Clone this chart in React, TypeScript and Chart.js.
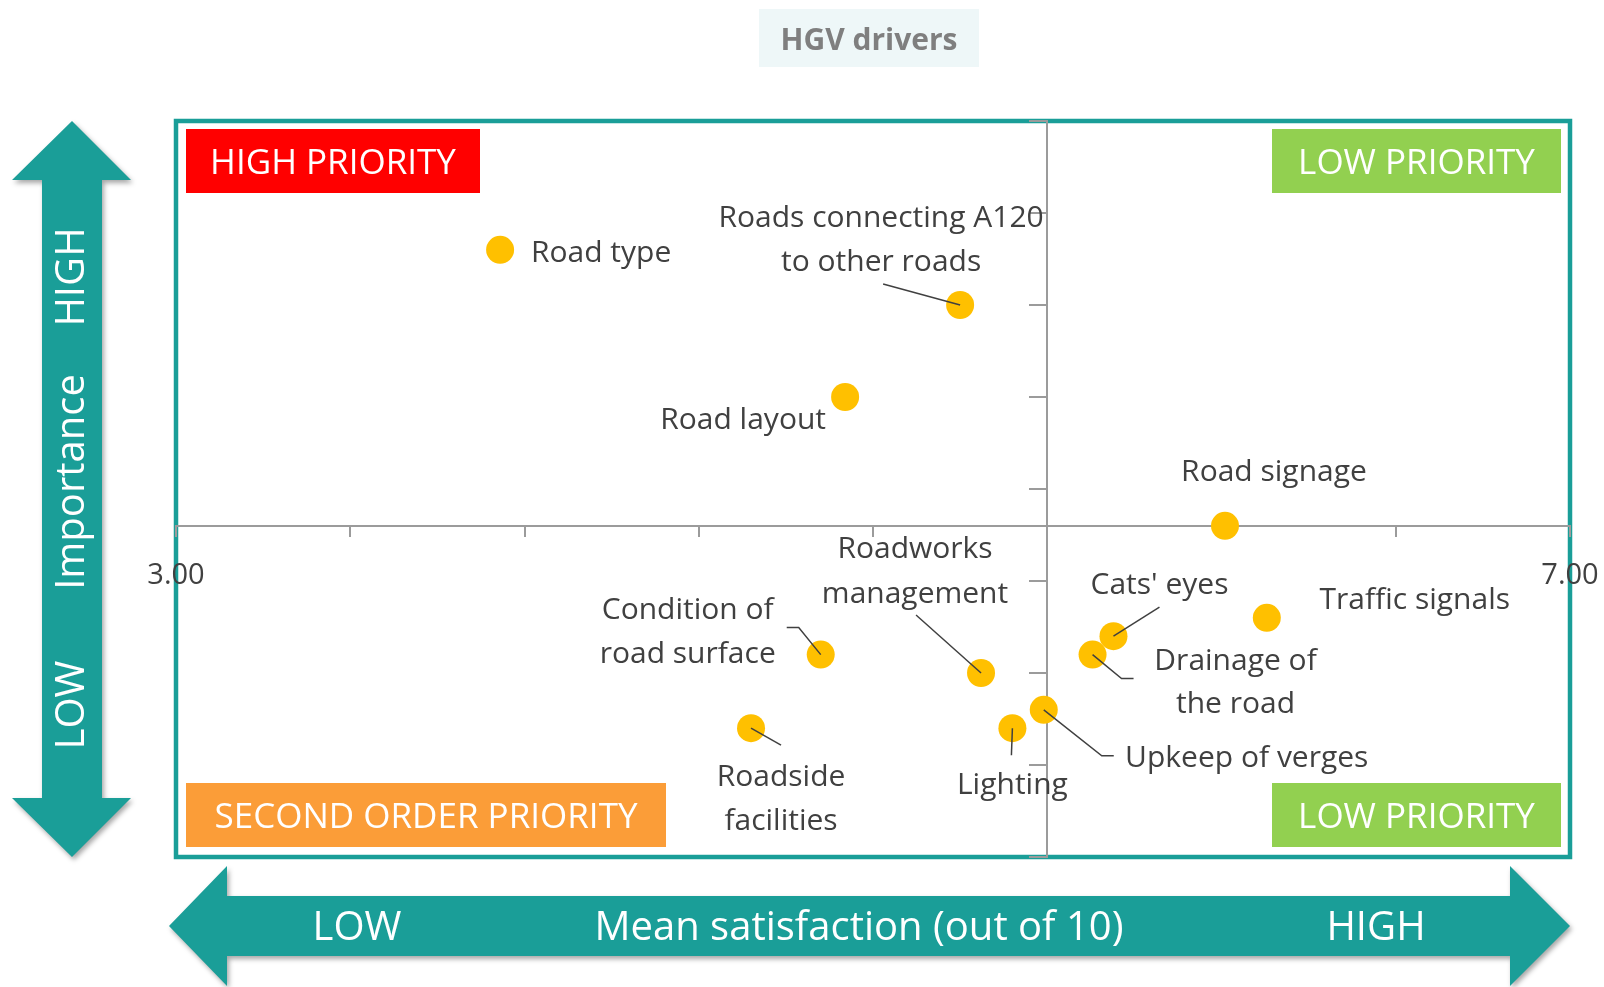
import React, { useEffect, useRef } from 'react';
import { Chart, registerables } from 'chart.js';

Chart.register(...registerables);

// ---------------- data ----------------
const categories = [
  'Road type',
  'Roads connecting A120 to other roads',
  'Road layout',
  'Road signage',
  'Traffic signals',
  "Cats' eyes",
  'Drainage of the road',
  'Condition of road surface',
  'Roadworks management',
  'Upkeep of verges',
  'Lighting',
  'Roadside facilities',
];
const satisfaction = [3.93, 5.25, 4.92, 6.01, 6.13, 5.69, 5.63, 4.85, 5.31, 5.49, 5.4, 4.65];
const importance = [9.3, 9.0, 8.5, 7.8, 7.3, 7.2, 7.1, 7.1, 7.0, 6.8, 6.7, 6.7];
const labelLines = [
  ['Road type'],
  ['Roads connecting A120', 'to other roads'],
  ['Road layout'],
  ['Road signage'],
  ['Traffic signals'],
  ["Cats' eyes"],
  ['Drainage of', 'the road'],
  ['Condition of', 'road surface'],
  ['Roadworks', 'management'],
  ['Upkeep of verges'],
  ['Lighting'],
  ['Roadside', 'facilities'],
];
const xTickLabels = ['3.00', '7.00'];
const quadrantLabels = ['HIGH PRIORITY', 'LOW PRIORITY', 'SECOND ORDER PRIORITY', 'LOW PRIORITY'];
const titleText = 'HGV drivers';
const xAxisWords = ['LOW', 'Mean satisfaction (out of 10)', 'HIGH'];
const yAxisWords = ['LOW', 'Importance', 'HIGH'];

const X_MIN = 3;
const X_MAX = 7;
const X_STEP = 0.5;
const X_CROSS = 5.5;
const Y_MIN = 6;
const Y_MAX = 10;
const Y_STEP = 0.5;
const Y_CROSS = 7.8;

// ---------------- label placement (pixel offsets from each point) ----------------
type LabelPos = { dx: number; dy: number; lh: number; leader?: number[][] };
const labelPlacement: LabelPos[] = [
  { dx: 101, dy: 4, lh: 44 },
  { dx: -79, dy: -87, lh: 44, leader: [[-77, -21], [0, 0]] },
  { dx: -102, dy: 23, lh: 44 },
  { dx: 49, dy: -53, lh: 44 },
  { dx: 148, dy: -17, lh: 44 },
  { dx: 46, dy: -51, lh: 44, leader: [[46, -29], [0, 0]] },
  { dx: 143, dy: 7, lh: 43, leader: [[0, 0], [29, 24], [41, 24]] },
  { dx: -133, dy: -44, lh: 44, leader: [[-34, -27], [-22, -27], [0, 0]] },
  { dx: -66, dy: -124, lh: 45, leader: [[-65, -58], [0, 0]] },
  { dx: 203, dy: 49, lh: 44, leader: [[0, 0], [58, 46], [70, 46]] },
  { dx: 0, dy: 57, lh: 44, leader: [[0, 0], [-1, 27]] },
  { dx: 30, dy: 49, lh: 44, leader: [[0, 0], [30, 17]] },
];

const FONT = '"Open Sans", "Noto Sans", sans-serif';
const TEAL = '#1A9E98';
const TEXT = '#404040';
const AXIS = '#9B9B9B';

const decorPlugin = {
  id: 'decor',
  beforeDraw(chart: any) {
    const ctx = chart.ctx as CanvasRenderingContext2D;
    const ca = chart.chartArea;
    ctx.save();

    // title
    ctx.fillStyle = '#EEF7F8';
    ctx.fillRect(759, 9, 220, 58);
    ctx.fillStyle = '#7F7F7F';
    ctx.font = `bold 30px ${FONT}`;
    ctx.textAlign = 'center';
    ctx.textBaseline = 'middle';
    ctx.fillText(titleText, 869, 41);

    // frame
    ctx.strokeStyle = TEAL;
    ctx.lineWidth = 4.5;
    ctx.strokeRect(ca.left, ca.top, ca.right - ca.left, ca.bottom - ca.top);

    // quadrant boxes
    const boxH = 64;
    const boxes = [
      { x: ca.left + 10, y: ca.top + 8, w: 294, c: '#FF0000' },
      { x: ca.right - 9 - 289, y: ca.top + 8, w: 289, c: '#92D050' },
      { x: ca.left + 10, y: ca.bottom - 10 - boxH, w: 480, c: '#FB9D38' },
      { x: ca.right - 9 - 289, y: ca.bottom - 10 - boxH, w: 289, c: '#92D050' },
    ];
    ctx.font = `35px ${FONT}`;
    boxes.forEach((b, i) => {
      ctx.fillStyle = b.c;
      ctx.fillRect(b.x, b.y, b.w, boxH);
      ctx.fillStyle = '#FFFFFF';
      ctx.fillText(quadrantLabels[i], b.x + b.w / 2, b.y + boxH / 2 + 3);
    });

    // arrows
    ctx.shadowColor = 'rgba(0,0,0,0.35)';
    ctx.shadowBlur = 5;
    ctx.shadowOffsetX = 2;
    ctx.shadowOffsetY = 3;
    ctx.fillStyle = TEAL;

    // vertical arrow
    const vx = 72;
    const vt = ca.top;
    const vb = ca.bottom;
    const hh = 59; // head height
    ctx.beginPath();
    ctx.moveTo(vx, vt);
    ctx.lineTo(vx + 59, vt + hh);
    ctx.lineTo(vx + 30, vt + hh);
    ctx.lineTo(vx + 30, vb - hh);
    ctx.lineTo(vx + 59, vb - hh);
    ctx.lineTo(vx, vb);
    ctx.lineTo(vx - 60, vb - hh);
    ctx.lineTo(vx - 30, vb - hh);
    ctx.lineTo(vx - 30, vt + hh);
    ctx.lineTo(vx - 60, vt + hh);
    ctx.closePath();
    ctx.fill();

    // horizontal arrow
    const hy = 926;
    const hl = 169;
    const hr = ca.right;
    const hw = 58;
    ctx.beginPath();
    ctx.moveTo(hl, hy);
    ctx.lineTo(hl + hw, hy - 60);
    ctx.lineTo(hl + hw, hy - 30);
    ctx.lineTo(hr - 60, hy - 30);
    ctx.lineTo(hr - 60, hy - 60);
    ctx.lineTo(hr, hy);
    ctx.lineTo(hr - 60, hy + 60);
    ctx.lineTo(hr - 60, hy + 30);
    ctx.lineTo(hl + hw, hy + 30);
    ctx.lineTo(hl + hw, hy + 60);
    ctx.closePath();
    ctx.fill();

    ctx.shadowColor = 'transparent';
    ctx.shadowBlur = 0;
    ctx.shadowOffsetX = 0;
    ctx.shadowOffsetY = 0;

    ctx.fillStyle = '#FFFFFF';
    ctx.font = `40px ${FONT}`;
    ctx.textAlign = 'center';
    ctx.textBaseline = 'middle';
    const hxs = [357, 859, 1376];
    xAxisWords.forEach((w, i) => ctx.fillText(w, hxs[i], hy + 3));

    const vys = [705, 482, 277];
    yAxisWords.forEach((w, i) => {
      ctx.save();
      ctx.translate(vx + 1, vys[i]);
      ctx.rotate(-Math.PI / 2);
      ctx.fillText(w, 0, 0);
      ctx.restore();
    });

    ctx.restore();
  },
  afterDatasetsDraw(chart: any) {
    const ctx = chart.ctx as CanvasRenderingContext2D;
    const meta = chart.getDatasetMeta(0);
    ctx.save();
    ctx.font = `30px ${FONT}`;
    ctx.fillStyle = TEXT;
    ctx.strokeStyle = TEXT;
    ctx.lineWidth = 1.5;
    ctx.textAlign = 'center';
    ctx.textBaseline = 'middle';
    meta.data.forEach((el: any, i: number) => {
      const p = labelPlacement[i];
      const px = el.x;
      const py = el.y;
      if (p.leader) {
        ctx.beginPath();
        p.leader.forEach((pt, k) => {
          if (k === 0) ctx.moveTo(px + pt[0], py + pt[1]);
          else ctx.lineTo(px + pt[0], py + pt[1]);
        });
        ctx.stroke();
      }
      labelLines[i].forEach((line, k) => {
        ctx.fillText(line, px + p.dx, py + p.dy + k * p.lh);
      });
    });
    ctx.restore();
  },
};

export default function App() {
  const canvasRef = useRef<HTMLCanvasElement | null>(null);

  useEffect(() => {
    if (!canvasRef.current) return;
    const chart = new Chart(canvasRef.current, {
      type: 'scatter',
      data: {
        labels: categories,
        datasets: [
          {
            label: 'HGV drivers',
            data: satisfaction.map((x, i) => ({ x, y: importance[i] })),
            backgroundColor: '#FFC000',
            borderWidth: 0,
            pointRadius: 14,
            pointHoverRadius: 14,
          },
        ],
      },
      options: {
        animation: false,
        responsive: false,
        events: [],
        layout: { padding: { left: 176, top: 121, right: 34, bottom: 130 } },
        plugins: {
          legend: { display: false },
          tooltip: { enabled: false },
        },
        scales: {
          x: {
            type: 'linear',
            min: X_MIN,
            max: X_MAX,
            position: { y: Y_CROSS } as any,
            afterFit: (s: any) => {
              s.height = 0;
              s.paddingLeft = 0;
              s.paddingRight = 0;
              s.paddingTop = 0;
              s.paddingBottom = 0;
            },
            ticks: {
              stepSize: X_STEP,
              autoSkip: false,
              maxRotation: 0,
              padding: 23,
              color: TEXT,
              font: { family: FONT, size: 29 },
              callback: (v: any) => {
                const s = Number(v).toFixed(2);
                return xTickLabels.includes(s) ? s : '';
              },
            },
            grid: { drawOnChartArea: false, drawTicks: true, tickLength: 10, color: AXIS, lineWidth: 2 },
            border: { display: true, color: AXIS, width: 2 },
          },
          y: {
            type: 'linear',
            min: Y_MIN,
            max: Y_MAX,
            position: { x: X_CROSS } as any,
            afterFit: (s: any) => {
              s.width = 0;
              s.paddingLeft = 0;
              s.paddingRight = 0;
              s.paddingTop = 0;
              s.paddingBottom = 0;
            },
            ticks: { stepSize: Y_STEP, display: false },
            grid: { drawOnChartArea: false, drawTicks: true, tickLength: 17, color: AXIS, lineWidth: 2 },
            border: { display: true, color: AXIS, width: 2 },
          },
        },
      },
      plugins: [decorPlugin],
    });
    return () => chart.destroy();
  }, []);

  return (
    <div style={{ position: 'fixed', left: 0, top: 0, width: 1604, height: 987, background: '#FFFFFF' }}>
      <canvas ref={canvasRef} width={1604} height={987} style={{ display: 'block', width: 1604, height: 987 }} />
    </div>
  );
}
